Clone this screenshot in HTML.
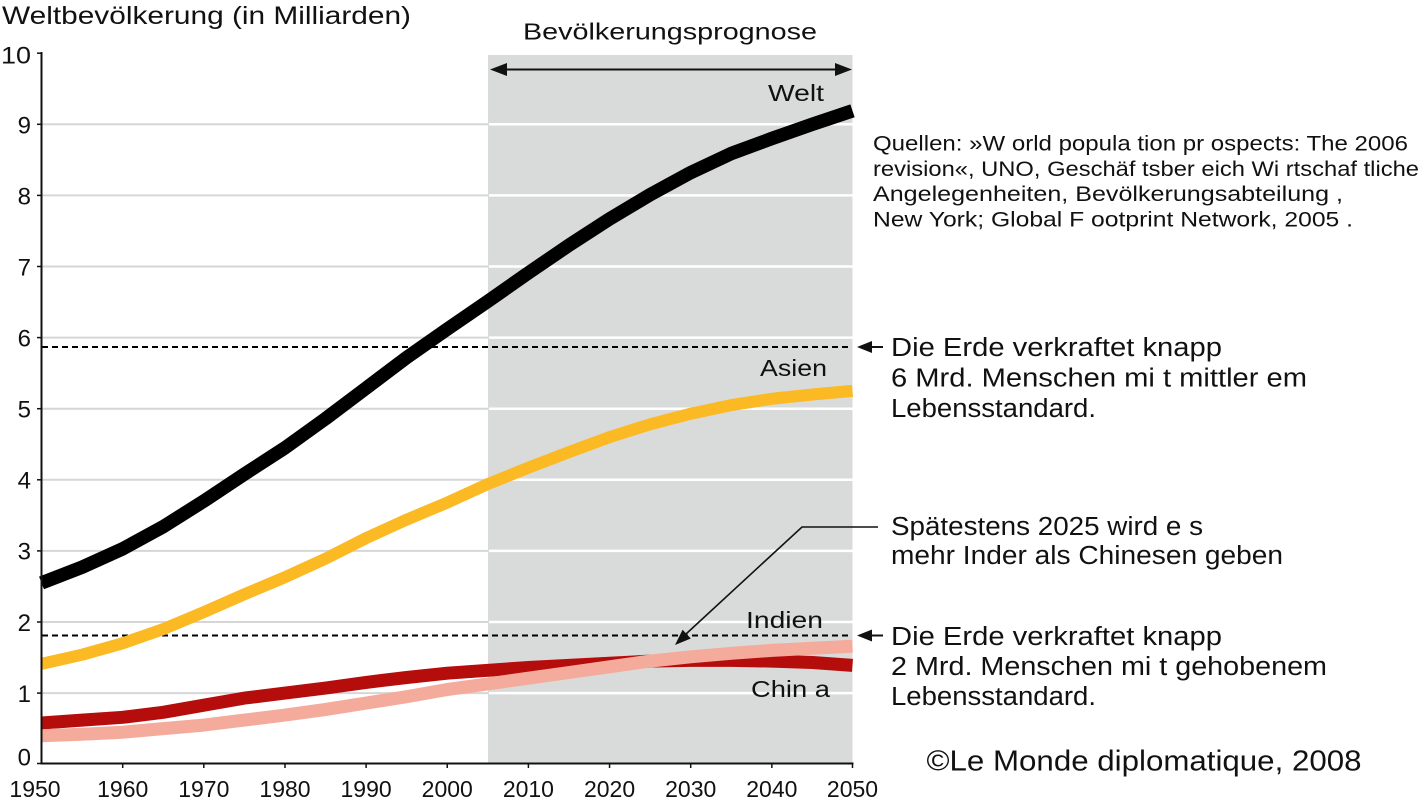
<!DOCTYPE html>
<html>
<head>
<meta charset="utf-8">
<style>
  html,body{margin:0;padding:0;background:#fff;}
  svg{display:block;}
  text{font-family:"Liberation Sans","DejaVu Sans",sans-serif;fill:#111;}
</style>
</head>
<body>
<svg width="1421" height="804" viewBox="0 0 1421 804" xmlns="http://www.w3.org/2000/svg">
  <rect x="0" y="0" width="1421" height="804" fill="#fff"/>
  <!-- forecast shaded region -->
  <rect x="488" y="55" width="364.5" height="708.5" fill="#d9dbda"/>

  <!-- grid lines white area -->
  <g stroke="#d6d6d6" stroke-width="2">
    <line x1="41.5" y1="693.1" x2="488" y2="693.1"/>
    <line x1="41.5" y1="622.0" x2="488" y2="622.0"/>
    <line x1="41.5" y1="550.9" x2="488" y2="550.9"/>
    <line x1="41.5" y1="479.8" x2="488" y2="479.8"/>
    <line x1="41.5" y1="408.7" x2="488" y2="408.7"/>
    <line x1="41.5" y1="337.6" x2="488" y2="337.6"/>
    <line x1="41.5" y1="266.5" x2="488" y2="266.5"/>
    <line x1="41.5" y1="195.4" x2="488" y2="195.4"/>
    <line x1="41.5" y1="124.3" x2="488" y2="124.3"/>
  </g>
  <!-- grid lines grey area -->
  <g stroke="#ffffff" stroke-width="2.5">
    <line x1="489" y1="693.1" x2="852.5" y2="693.1"/>
    <line x1="489" y1="622.0" x2="852.5" y2="622.0"/>
    <line x1="489" y1="550.9" x2="852.5" y2="550.9"/>
    <line x1="489" y1="479.8" x2="852.5" y2="479.8"/>
    <line x1="489" y1="408.7" x2="852.5" y2="408.7"/>
    <line x1="489" y1="337.6" x2="852.5" y2="337.6"/>
    <line x1="489" y1="266.5" x2="852.5" y2="266.5"/>
    <line x1="489" y1="195.4" x2="852.5" y2="195.4"/>
    <line x1="489" y1="124.3" x2="852.5" y2="124.3"/>
  </g>

  <!-- dashed reference lines -->
  <g stroke="#000" stroke-width="2" stroke-dasharray="6,4">
    <line x1="42" y1="347" x2="852" y2="347"/>
    <line x1="42" y1="635.5" x2="852" y2="635.5"/>
  </g>

  <!-- series -->
  <g fill="none" stroke-linejoin="round" stroke-linecap="butt">
    <!-- China -->
    <polyline stroke="#b50c0c" stroke-width="13" points="41.5,723 82.1,720.1 122.7,717.3 163.2,712.3 203.8,705.2 244.4,698.1 285,693.1 325.5,688.1 366.1,682.4 406.7,677.5 447.25,673.2 487.8,670.3 528.4,667.5 569,665.4 609.55,663.2 650.1,661.1 690.7,660.4 731.3,660.4 771.85,661.1 812.4,662.5 852.5,665.4"/>
    <!-- India -->
    <polyline stroke="#f4ab9c" stroke-width="13" points="41.5,735.8 82.1,734.3 122.7,732.2 163.2,728.65 203.8,725.1 244.4,720.1 285,715.1 325.5,709.5 366.1,703.1 406.7,696.7 447.25,689.5 487.8,683.9 528.4,678.2 569,672.5 609.55,666.8 650.1,661.1 690.7,656.8 731.3,653.3 771.85,650.4 812.4,648.3 852.5,646.2"/>
    <!-- Asia -->
    <polyline stroke="#fbb924" stroke-width="12" points="41.5,663.9 82.1,654.7 122.7,643.3 163.2,629.1 203.8,612.1 244.4,594.3 285,577.2 325.5,558.7 366.1,538.1 406.7,519.6 447.25,502.6 487.8,484.1 528.4,467.7 569,452.1 609.55,437.1 650.1,424.3 690.7,413.7 731.3,405.1 771.85,398.75 812.4,394.5 852.5,390.9"/>
    <!-- World -->
    <polyline stroke="#000" stroke-width="13.5" points="41.5,582.9 82.1,567.2 122.7,548.8 163.2,526.7 203.8,501.1 244.4,474.1 285,447.8 325.5,418.7 366.1,388.1 406.7,357.5 447.25,329.1 487.8,301.3 528.4,272.9 569,245.2 609.55,218.9 650.1,194.7 690.7,172.6 731.3,153.5 771.85,138.5 812.4,124.3 852.5,110.8"/>
  </g>

  <!-- axes -->
  <g stroke="#111" stroke-width="2">
    <line x1="41.5" y1="52" x2="41.5" y2="764.5"/>
    <line x1="40.5" y1="763.5" x2="853.5" y2="763.5"/>
  </g>
  <g stroke="#111" stroke-width="1.5">
    <line x1="37" y1="53.2" x2="41.5" y2="53.2"/>
    <line x1="37" y1="124.3" x2="41.5" y2="124.3"/>
    <line x1="37" y1="195.4" x2="41.5" y2="195.4"/>
    <line x1="37" y1="266.5" x2="41.5" y2="266.5"/>
    <line x1="37" y1="337.6" x2="41.5" y2="337.6"/>
    <line x1="37" y1="408.7" x2="41.5" y2="408.7"/>
    <line x1="37" y1="479.8" x2="41.5" y2="479.8"/>
    <line x1="37" y1="550.9" x2="41.5" y2="550.9"/>
    <line x1="37" y1="622.0" x2="41.5" y2="622.0"/>
    <line x1="37" y1="693.1" x2="41.5" y2="693.1"/>
    <line x1="37" y1="763.5" x2="41.5" y2="763.5"/>
    <line x1="122.7" y1="763.5" x2="122.7" y2="768"/>
    <line x1="203.8" y1="763.5" x2="203.8" y2="768"/>
    <line x1="285" y1="763.5" x2="285" y2="768"/>
    <line x1="366.1" y1="763.5" x2="366.1" y2="768"/>
    <line x1="447.25" y1="763.5" x2="447.25" y2="768"/>
    <line x1="528.4" y1="763.5" x2="528.4" y2="768"/>
    <line x1="609.55" y1="763.5" x2="609.55" y2="768"/>
    <line x1="690.7" y1="763.5" x2="690.7" y2="768"/>
    <line x1="771.85" y1="763.5" x2="771.85" y2="768"/>
    <line x1="852.5" y1="763.5" x2="852.5" y2="768"/>
  </g>

  <!-- y labels -->
  <g font-size="24" text-anchor="end">
    <text x="31" y="63.5" textLength="30" lengthAdjust="spacingAndGlyphs">10</text>
    <text x="31" y="133.5">9</text>
    <text x="31" y="204.5">8</text>
    <text x="31" y="275.5">7</text>
    <text x="31" y="346.5">6</text>
    <text x="31" y="417.5">5</text>
    <text x="31" y="488.5">4</text>
    <text x="31" y="559.5">3</text>
    <text x="31" y="631">2</text>
    <text x="31" y="702">1</text>
    <text x="31" y="765.5">0</text>
  </g>
  <!-- x labels -->
  <g font-size="23" text-anchor="middle">
    <text x="35" y="797">1950</text>
    <text x="122.7" y="797">1960</text>
    <text x="203.8" y="797">1970</text>
    <text x="285" y="797">1980</text>
    <text x="366.1" y="797">1990</text>
    <text x="447.25" y="797">2000</text>
    <text x="528.4" y="797">2010</text>
    <text x="609.55" y="797">2020</text>
    <text x="690.7" y="797">2030</text>
    <text x="771.85" y="797">2040</text>
    <text x="852.5" y="797">2050</text>
  </g>

  <!-- titles -->
  <text x="2" y="24" font-size="25" textLength="409" lengthAdjust="spacingAndGlyphs">Weltbevölkerung  (in Milliarden)</text>
  <text x="523" y="39.5" font-size="23" textLength="294" lengthAdjust="spacingAndGlyphs">Bevölkerungsprognose</text>

  <!-- top double arrow -->
  <line x1="504" y1="69.5" x2="838" y2="69.5" stroke="#111" stroke-width="2"/>
  <polygon points="490,69.5 507,63 507,76" fill="#111"/>
  <polygon points="852,69.5 835,63 835,76" fill="#111"/>

  <!-- series labels -->
  <g font-size="23">
    <text x="768" y="101" textLength="56" lengthAdjust="spacingAndGlyphs">Welt</text>
    <text x="760" y="376" textLength="67" lengthAdjust="spacingAndGlyphs">Asien</text>
    <text x="746" y="628" textLength="77" lengthAdjust="spacingAndGlyphs">Indien</text>
    <text x="751" y="697" textLength="79" lengthAdjust="spacingAndGlyphs">Chin a</text>
  </g>

  <!-- sources -->
  <g font-size="21">
    <text x="873" y="150.5" textLength="535" lengthAdjust="spacingAndGlyphs">Quellen: »W orld popula tion pr ospects: The 2006</text>
    <text x="873" y="175.8" textLength="546" lengthAdjust="spacingAndGlyphs">revision«,  UNO, Geschäf tsber eich Wi rtschaf tliche</text>
    <text x="873" y="201" textLength="470" lengthAdjust="spacingAndGlyphs">Angelegenheiten,  Bevölkerungsabteilung ,</text>
    <text x="873" y="226.3" textLength="480" lengthAdjust="spacingAndGlyphs">New York; Global F ootprint Network,  2005 .</text>
  </g>

  <!-- annotation arrows -->
  <line x1="870" y1="347" x2="883" y2="347" stroke="#111" stroke-width="2"/>
  <polygon points="857,347 872,341 872,353" fill="#111"/>
  <line x1="870" y1="635.5" x2="883" y2="635.5" stroke="#111" stroke-width="2"/>
  <polygon points="857,635.5 872,629.5 872,641.5" fill="#111"/>

  <polyline points="878,527 802,527 686,634" fill="none" stroke="#111" stroke-width="1.6"/>
  <polygon points="675,645 690.8,638.5 682.6,629.7" fill="#111"/>

  <!-- right annotations -->
  <g font-size="25.5">
    <text x="891" y="356" textLength="331" lengthAdjust="spacingAndGlyphs">Die Erde verkraftet  knapp</text>
    <text x="891" y="386.5" textLength="416" lengthAdjust="spacingAndGlyphs">6 Mrd.  Menschen mi t mittler em</text>
    <text x="891" y="417" textLength="205" lengthAdjust="spacingAndGlyphs">Lebensstandard.</text>

    <text x="891" y="535" textLength="312" lengthAdjust="spacingAndGlyphs">Spätestens 2025 wird e s</text>
    <text x="891" y="564" textLength="392" lengthAdjust="spacingAndGlyphs">mehr Inder als Chinesen geben</text>

    <text x="891" y="645" textLength="331" lengthAdjust="spacingAndGlyphs">Die Erde verkraftet  knapp</text>
    <text x="891" y="675" textLength="436" lengthAdjust="spacingAndGlyphs">2 Mrd. Menschen mi t gehobenem</text>
    <text x="891" y="705" textLength="205" lengthAdjust="spacingAndGlyphs">Lebensstandard.</text>
  </g>

  <text x="926.5" y="770.7" font-size="29" textLength="435" lengthAdjust="spacingAndGlyphs">©Le Monde diplomatique, 2008</text>
</svg>
</body>
</html>
